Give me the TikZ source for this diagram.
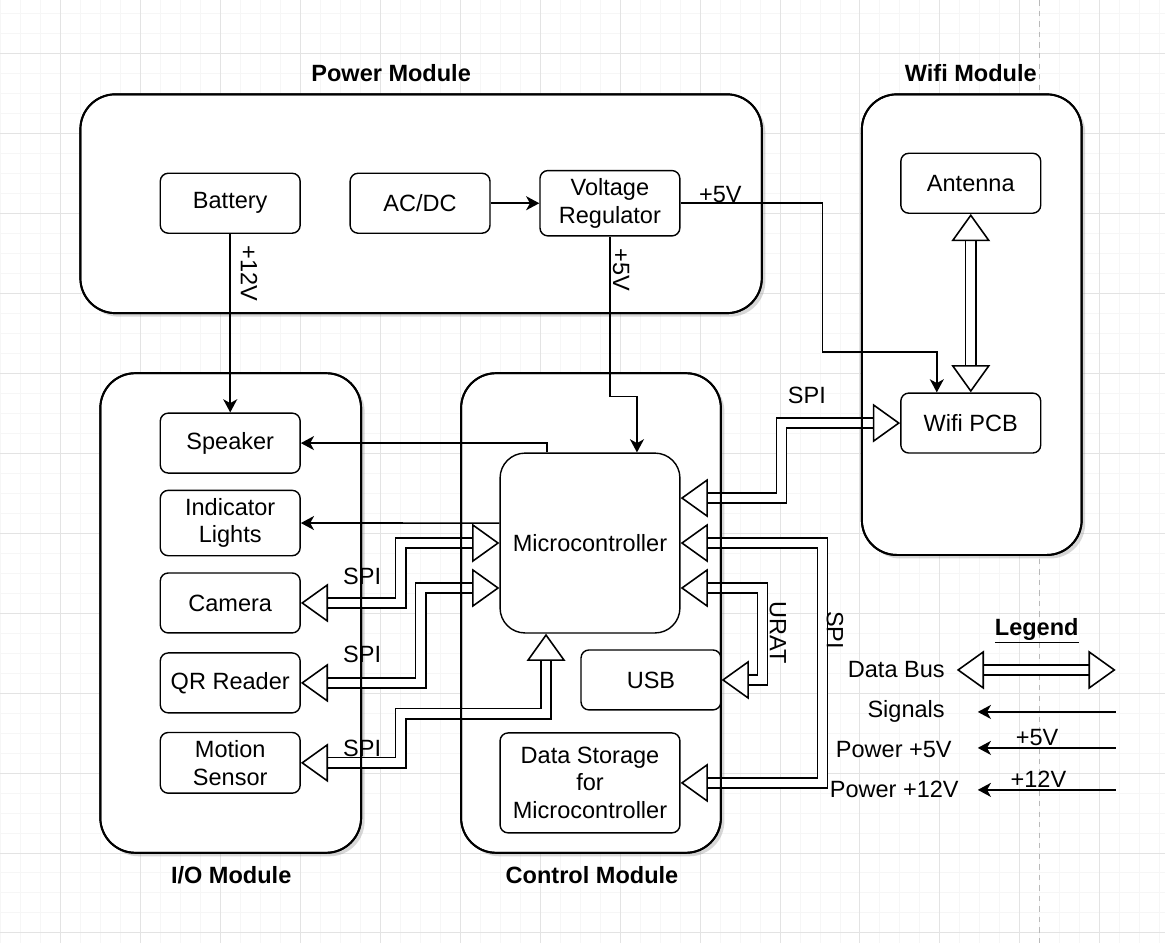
\documentclass[tikz,border=0pt]{standalone}
\usepackage{fontspec}
\setmainfont{Liberation Sans}
\usetikzlibrary{positioning, arrows.meta, shadows}

\begin{document}
\fontsize{13.4}{15.8}\selectfont
\begin{tikzpicture}[
        x=0.02cm, y=-0.02cm,
        node distance=1.6cm, % Distance between stacked boxes
        module/.style={draw, line width=1.1pt, rounded corners=0.7cm, fill=white, outer sep=0pt,
            drop shadow={shadow xshift=0.07cm, shadow yshift=-0.07cm, opacity=0.3}}, % Module styling
        frame/.style={line width=1.1pt, rounded corners=0.7cm}, % Module outline on top of buses
        block/.style={draw, line width=0.8pt, rounded corners=0.16cm, fill=white, minimum width=2.8cm, minimum height=1.2cm, align=center}, % Box styling
        title/.style={font=\bfseries}, % Module titles
        lbl/.style={inner sep=1pt}, % Connector labels
        signal/.style={draw, line width=0.9pt, -{Stealth[length=7.5pt, width=8pt, inset=2.2pt]}}, % Signal arrows
        bus/.style={draw, line width=0.85pt, double=white, double distance=5pt,
            {Triangle[length=15.5pt, width=22pt, line width=0.9pt, fill=white]}-{Triangle[length=15.5pt, width=22pt, line width=0.9pt, fill=white]}} % Data bus arrows
        ]

        % Background grid
        \fill[white] (0,0) rectangle (1165,943);
        \foreach \x in {0,20,...,1160} \draw[gray!7] (\x,0) -- (\x,943);
        \foreach \y in {13,33,...,933} \draw[gray!7] (0,\y) -- (1165,\y);
        \foreach \x in {60,140,...,1100} \draw[gray!22] (\x,0) -- (\x,943);
        \foreach \y in {53,133,...,933} \draw[gray!22] (0,\y) -- (1165,\y);
        \draw[gray!55, dashed] (1040,0) -- (1040,943);
        \useasboundingbox (0,0) rectangle (1165,943);

        % Define modules
        \node (power) [module, minimum width=13.64cm, minimum height=4.38cm] at (421,203.5) {};
        \node (wifi) [module, minimum width=4.4cm, minimum height=9.22cm] at (972,324.5) {};
        \node (io) [module, minimum width=5.22cm, minimum height=9.6cm] at (230.5,613) {};
        \node (control) [module, minimum width=5.2cm, minimum height=9.6cm] at (591,613) {};

        \node (powertitle) [title] at (391,73) {Power Module};
        \node (wifititle) [title] at (971,73) {Wifi Module};
        \node (iotitle) [title] at (231,875) {I/O Module};
        \node (controltitle) [title] at (592,875) {Control Module};

        % Define nodes
        \node (battery) [block] at (230,203) {Battery};
        \node (acdc) [block, right of=battery, node distance=3.8cm] {AC/DC};
        \node (vreg) [block, right of=acdc, node distance=3.8cm] {Voltage\\Regulator};

        \node (antenna) [block] at (971,183) {Antenna};
        \node (wifipcb) [block, below of=antenna, node distance=4.8cm] {Wifi PCB};

        \node (speaker) [block] at (230,443) {Speaker};
        \node (lights) [block, below of=speaker] {Indicator\\Lights};
        \node (camera) [block, below of=lights] {Camera};
        \node (qr) [block, below of=camera] {QR Reader};
        \node (motion) [block, below of=qr] {Motion\\Sensor};

        \node (mcu) [block, minimum width=3.6cm, minimum height=3.6cm, rounded corners=0.5cm] at (590,543) {Microcontroller};
        \node (usb) [block] at (651,680) {USB};
        \node (storage) [block, minimum width=3.6cm, minimum height=2cm] at (590,783) {Data Storage\\for\\Microcontroller};

        % Draw power lines and signals
        \draw[signal] (acdc.east) -- (vreg.west);
        \draw[signal] (battery.south) -- (speaker.north);
        \draw[signal] (vreg.south) -- ++(0,160) -| ([xshift=0.94cm]mcu.north);
        \draw[signal] (vreg.east) -- ++(142,0) node[pos=0.28, above, inner sep=0pt] {+5V} -- ++(0,149) -| ([xshift=-0.68cm]wifipcb.north);
        \draw[signal] ([xshift=-0.86cm]mcu.north) |- (speaker.east);
        \draw[signal] ([yshift=0.4cm]mcu.west) -- (lights.east);

        \node (twelvev) [lbl, rotate=-90] at (249,273) {+12V};
        \node (fivev) [lbl, rotate=-90] at (621,270) {+5V};

        % Draw data buses
        \draw[bus] (antenna.south) -- (wifipcb.north);
        \draw[bus] ([yshift=0.9cm]mcu.east) -- ++(101,0) |- (wifipcb.west);
        \draw[bus] (camera.east) -- ++(100,0) |- (mcu.west);
        \draw[bus] (qr.east) -- ++(120,0) |- ([yshift=-0.9cm]mcu.west);
        \draw[bus] (motion.east) -- ++(100,0) -- ++(0,-49) -| ([xshift=-0.88cm]mcu.south);
        \draw[bus] ([yshift=-0.9cm]mcu.east) -- ++(82,0) |- (usb.east);
        \draw[bus] (mcu.east) -- ++(142,0) |- (storage.east);

        \node (spiwifi) [lbl] at (807,395) {SPI};
        \node (spicam) [lbl] at (362,576) {SPI};
        \node (spiqr) [lbl] at (362,654) {SPI};
        \node (spimotion) [lbl] at (362,748) {SPI};
        \node (urat) [lbl, rotate=-90] at (778,633) {URAT};
        \node (spistorage) [lbl, rotate=-90] at (835,630) {SPI};

        % Module outlines over the buses
        \foreach \m in {power, wifi, io, control}
            \draw[frame] (\m.north west) rectangle (\m.south east);

        % Legend
        \node (legend) [title] at (1037,631) {\underline{Legend}};
        \node (legbus) [lbl, anchor=east] at (947,670) {Data Bus};
        \node (legsig) [lbl, anchor=east] at (947,711) {Signals};
        \node (legfive) [lbl, anchor=east] at (954,750) {Power +5V};
        \node (legtwelve) [lbl, anchor=east] at (961,790) {Power +12V};

        \coordinate (busleft) at (957,670);
        \coordinate (busright) at (1116,670);
        \coordinate (sigright) at (1116,712);
        \coordinate (sigleft) at (978,712);
        \coordinate (fiveright) at (1116,748);
        \coordinate (fiveleft) at (978,748);
        \coordinate (twelveright) at (1116,790);
        \coordinate (twelveleft) at (978,790);

        \draw[bus] (busleft) -- (busright);
        \draw[signal] (sigright) -- (sigleft);
        \draw[signal] (fiveright) -- (fiveleft) node[pos=0.57, above, lbl] {+5V};
        \draw[signal] (twelveright) -- (twelveleft) node[pos=0.56, above, lbl] {+12V};

    \end{tikzpicture}
\end{document}
